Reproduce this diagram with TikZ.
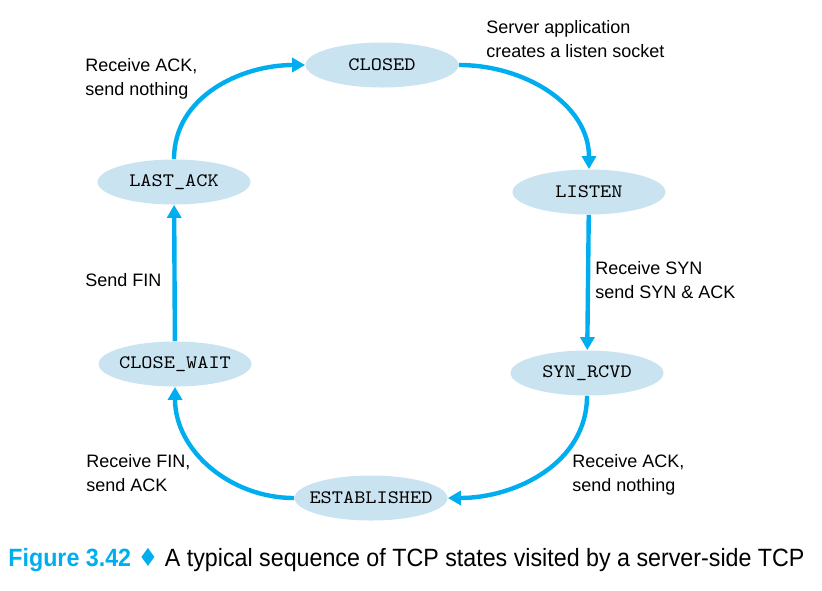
\documentclass[tikz,border=0pt]{standalone}
\usepackage{fontspec}
\setmainfont{Liberation Sans}
\newfontfamily\symfont{DejaVu Sans}
\usetikzlibrary{shapes.geometric,arrows.meta}
\definecolor{tcpcyan}{HTML}{00AEEF}
\definecolor{tcpfill}{HTML}{C9E3F1}
\newcommand{\statetext}[1]{\makebox[0pt][c]{\scalebox{1.12}[1]{\ttfamily\fontsize{9.5}{11}\selectfont #1}}}
\tikzset{
  state/.style={ellipse, fill=tcpfill, draw=none, minimum width=76.5pt, minimum height=22.5pt, inner sep=0pt},
  trans/.style={draw=tcpcyan, line width=2.2pt, -{Triangle[length=6.5pt,width=7pt]}},
  lbl/.style={anchor=base west, align=left, inner sep=0pt, font=\fontsize{9}{11.75}\selectfont}
}
\begin{document}
\begin{tikzpicture}[x=0.5pt,y=-0.5pt]
\useasboundingbox (0,0) rectangle (822,590);
\node[state] (closed) at (382,65) {\statetext{CLOSED}};
\node[state] (listen) at (589,192) {\statetext{LISTEN}};
\node[state] (synrcvd) at (587,373) {\statetext{SYN\_RCVD}};
\node[state] (estab) at (371,498) {\statetext{ESTABLISHED}};
\node[state] (closewait) at (175,364) {\statetext{CLOSE\_WAIT}};
\node[state] (lastack) at (174,182) {\statetext{LAST\_ACK}};

\draw[trans] (lastack) to[out=90,in=180] (closed);
\draw[trans] (closed) to[out=0,in=90] (listen);
\draw[trans] (listen) -- (synrcvd);
\draw[trans] (synrcvd) to[out=-90,in=0] (estab);
\draw[trans] (estab) to[out=180,in=-90] (closewait);
\draw[trans] (closewait) -- (lastack);

\node[lbl] (l1) at (85,95) {Receive ACK,\\send nothing};
\node[lbl] (l2) at (486,57) {Server application\\creates a listen socket};
\node[lbl] (l3) at (595,298) {Receive SYN\\send SYN \& ACK};
\node[lbl] (l4) at (85,286) {Send FIN};
\node[lbl] (l5) at (86,491) {Receive FIN,\\send ACK};
\node[lbl] (l6) at (572,491) {Receive ACK,\\send nothing};

\node[anchor=base west, inner sep=0pt] (cap) at (8,566) {\scalebox{0.93}[1]{\fontsize{12.5}{14}\selectfont\textcolor{tcpcyan}{\textbf{Figure 3.42}} \textcolor{tcpcyan}{\symfont ♦} A typical sequence of TCP states visited by a server-side TCP}};
\end{tikzpicture}
\end{document}
